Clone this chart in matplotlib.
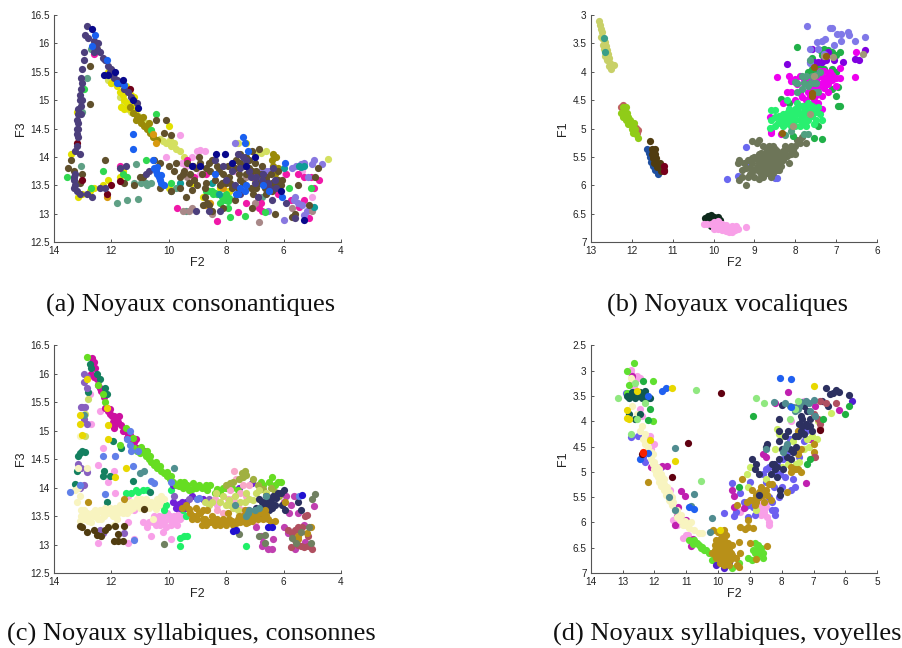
import matplotlib
matplotlib.use("Agg")
import matplotlib.pyplot as plt

W, H = 903, 648
# ---- Panel (a) F2 / F3 : consonant nuclei
A_OLIVE = [(13.5,13.8),(13.4,13.95),(13.3,13.75),(13.1,13.55),(13.0,13.7),(12.75,15.6),(12.75,14.93),(12.2,13.95),(11.0,13.65),(10.5,13.95),(10.3,13.9),(10.0,13.85),(9.8,13.75),(9.5,13.7),(9.3,13.55),(9.1,13.6),(8.9,13.9),(8.7,13.8),(8.5,13.95),(8.3,13.85),(8.1,13.7),(7.9,13.65),(7.7,13.8),(7.5,13.9),(7.3,14.0),(7.1,14.1),(7.0,13.9),(6.8,13.7),(6.6,13.6),(6.4,13.55),(6.2,13.75),(6.1,13.5),(9.6,13.45),(9.4,13.3),(8.8,13.15),(8.5,13.05),(8.1,13.1),(7.7,13.25),(7.1,13.1),(6.3,13.0),(5.6,13.0),(5.7,12.95),(4.9,13.65),(4.8,13.8),(5.1,13.15),(5.5,13.5),(11.55,13.55),(11.2,13.5),(10.9,13.65),(9.9,13.4),(8.65,13.2),(8.6,13.15),(8.75,13.3),(10.1,14.65),(10.45,14.65),(9.9,14.38),(10.15,14.42),(6.85,14.15),(7.5,14.05),(7.2,13.8),(7.3,13.7),(9.15,13.85),(8.0,13.55),(8.2,13.5),(6.5,13.5),(6.6,13.35),(7.6,13.45),(10.3,13.45),(9.2,13.42),(7.5,13.6),
           (9.6,13.65),(9.45,13.75),(9.25,13.7),(9.05,13.8),(8.85,13.7),(8.7,13.55),(8.55,13.75),(8.4,13.6),(8.25,13.75),(8.15,13.55),(7.95,13.85),(7.85,13.55),(7.65,13.95),(7.55,13.7),(7.35,13.85),(7.2,13.95),(7.1,13.75),(6.95,13.75),(6.85,13.55),(6.75,13.85),(6.6,13.65),(6.45,13.7),(6.3,13.5),(6.2,13.6),(6.05,13.6),(9.0,13.5),(8.75,13.45),(7.8,13.45),(7.4,13.55),(7.15,13.45),(6.95,13.45),(7.05,13.35),(6.65,13.45),(6.4,13.4),(9.75,13.9),(9.35,13.9),(8.95,14.0),(8.6,13.9)]
A_PURPLE = [(12.85,16.3),(12.9,16.15),(12.8,16.1),(12.95,15.85),(12.95,15.7),(13.0,15.55),(13.05,15.4),(13.0,15.3),(13.05,15.2),(13.1,15.1),(13.1,15.0),(13.05,14.9),(13.15,14.85),(13.15,14.75),(13.2,14.65),(13.15,14.6),(13.2,14.5),(13.15,14.5),(13.2,14.4),(13.15,14.35),(13.2,14.2),(13.1,14.05),(13.25,14.1),(13.25,13.7),(13.3,13.6),(13.25,13.5),(13.3,13.45),(13.1,13.35),(12.85,13.35),(12.65,13.3),(12.4,13.45),(12.2,13.45),(10.8,13.7),(10.7,13.75),(11.5,13.85),(11.7,13.8),(12.6,16.05),(12.55,15.95),(12.5,15.9),(12.45,16.0),(12.4,15.85),(12.3,15.75),(12.2,15.7),(12.1,15.6),(12.0,15.55),(11.95,15.45),(11.9,15.4),(11.8,15.35),(11.7,15.3),(11.55,15.2),(11.4,15.15),(11.3,15.05),(11.1,14.95),(8.4,13.95),(8.1,13.85),(7.8,13.75),(7.4,14.0),(7.2,13.75),(7.0,13.55),(6.7,13.7),(6.5,13.45),(6.3,13.6),(6.9,13.3),(7.5,13.35),(8.2,13.05),(8.6,13.05),(5.9,13.2),(5.6,12.92),(6.4,13.25),(9.05,13.05),
            (7.6,14.05),(7.5,13.8),(7.3,13.95),(7.15,13.65),(6.95,13.65),(6.75,13.6),(6.55,13.55),(6.35,13.8),(8.0,13.6),(7.7,13.5),(6.25,13.45),(13.3,13.65),(13.2,13.4),(13.05,14.75),(13.0,15.0),(12.6,15.85),(12.05,15.5)]
A_YELLOW = [(13.4,14.05),(13.2,14.8),(13.15,13.3),(13.0,13.35),(12.75,13.4),(12.6,13.45),(12.3,13.5),(12.1,13.6),(11.7,13.65),(11.6,13.75),(12.5,15.9),(12.1,15.5),(12.0,15.3),(11.75,15.3),(11.5,15.25),(11.3,15.1),(11.2,15.05),(11.1,14.85),(10.0,14.55),(10.0,13.45),(9.2,13.55),(8.8,13.3),(8.2,13.45),(7.9,13.4),(7.3,14.25),(7.2,13.7),(7.0,13.6),(11.9,15.35),(11.8,15.25),(11.7,15.15),(11.55,15.0),(11.6,15.1),(11.45,14.95),(11.35,14.85),(11.25,14.9),(11.65,14.88),(11.55,14.85)]
A_LIME = [(11.55,14.95),(11.45,14.9),(11.4,14.85),(11.3,14.8),(11.2,14.78),(11.05,14.72),(10.95,14.65),(10.8,14.6),(10.7,14.5),(10.6,14.48),(12.1,15.35),(12.0,15.3),(11.7,15.05),(10.3,14.32),(10.2,14.28),(10.0,14.25),(9.9,14.2),(9.75,14.15),(9.6,14.1),(9.45,14.0),(7.6,14.25),(6.6,14.1),(6.8,14.08),(4.45,13.97),(10.1,14.25),(9.95,14.3),(9.8,14.25),(7.0,14.05)]
A_OCHRE = [(11.25,14.78),(11.1,14.72),(11.0,14.68),(10.95,14.6),(10.85,14.55),(10.75,14.5),(10.65,14.42),(10.55,14.35),(10.4,14.3),(6.35,14.05),(6.25,14.0),(6.4,13.95),(6.35,13.85),(6.2,13.8),(6.3,13.7),(11.35,14.88),(11.15,14.65),(10.9,14.7),(10.7,14.6)]
A_NAVY = [(12.65,16.25),(12.1,15.45),(12.25,15.45),(11.85,15.5),(11.6,15.35),(11.25,15.0),(11.05,14.87),(8.35,14.05),(8.05,14.05),(7.8,13.9),(7.3,13.85),(7.0,14.0),(8.9,13.85),(5.3,12.9),(6.1,13.4),(9.2,13.85)]
A_BLUE = [(12.55,16.15),(12.65,15.95),(12.15,15.7),(11.55,15.27),(11.8,15.3),(11.25,14.4),(11.25,14.15),(10.5,13.8),(10.45,13.75),(10.4,13.7),(10.35,13.65),(10.3,13.6),(10.25,13.55),(10.15,13.5),(10.55,13.95),(7.4,14.35),(7.35,14.25),(7.25,14.1),(7.65,13.35),(7.5,13.45),(7.3,13.5),(6.7,13.5),(6.5,13.4),(6.05,13.3),(5.95,13.9),(8.4,13.7),(10.4,13.82),(10.28,13.68),(7.6,13.35),(7.35,13.4)]
A_SAGE = [(12.7,15.9),(12.85,15.4),(13.0,14.8),(13.05,13.85),(11.8,13.2),(11.45,13.25),(11.05,13.27),(11.2,13.55),(10.95,13.55),(10.8,13.55),(10.6,13.55),(10.75,13.5),(11.15,13.88),(9.9,13.4),(9.75,13.45),(9.4,13.05),(7.9,13.4),(6.75,13.3)]
A_SPRING = [(13.55,13.65),(12.95,15.2),(12.3,13.75),(12.7,13.45),(11.45,13.65),(11.6,13.7),(10.8,13.95),(10.6,14.48),(10.45,14.75),(9.9,13.55),(8.7,13.4),(8.2,13.2),(8.15,13.3),(8.05,13.25),(7.95,13.22),(8.0,13.35),(7.95,13.1),(8.4,13.37),(8.6,13.4),(8.3,13.35),(7.85,12.95),(7.35,12.97),(6.65,13.03),(5.8,13.45),(5.05,13.45),(8.1,13.3),(7.9,13.28),(8.5,13.4),(8.45,13.35)]
A_MAGENTA = [(11.7,13.85),(9.7,13.1),(9.1,13.65),(8.3,12.87),(7.6,13.03),(7.3,13.2),(7.05,13.65),(6.9,13.3),(6.85,13.1),(6.75,13.05),(5.9,13.7),(5.5,13.7),(5.3,13.65),(5.1,12.93),(5.05,13.65),(4.95,13.45),(4.75,13.6),(5.3,13.25),(6.2,13.35),(9.35,13.95),(8.7,13.7),(12.6,15.82),(6.8,13.2),(5.75,13.25),(5.45,13.12)]
A_PERI = [(6.5,13.75),(5.7,13.8),(5.55,13.85),(5.4,13.87),(5.3,13.9),(5.0,13.88),(4.95,13.95),(4.65,13.88),(5.65,13.25),(5.5,13.2),(5.2,13.05),(5.3,12.98),(6.0,12.9),(6.55,13.05),(5.15,13.65),(7.7,14.25),(6.8,13.75),(6.6,13.75),(5.6,13.3),(5.35,13.15)]
A_PINK = [(9.6,14.38),(9.0,14.1),(8.9,14.12),(8.75,14.1),(8.9,13.7),(9.2,14.0),(7.7,13.75),(6.45,13.5),(5.0,13.3),(5.35,13.75),(5.95,13.7),(10.1,14.0),(9.55,13.9),(9.4,13.85)]
A_MAROON = [(13.0,13.6),(13.2,14.25),(11.7,13.58),(12.0,13.5),(12.15,13.35),(11.35,15.2)]
A_TEAL = [(5.45,13.85),(5.4,13.82),(5.3,13.85),(4.95,13.13),(6.0,13.8),(8.5,13.55),(8.25,13.35),(9.6,13.55)]
A_ORANGE = [(12.15,13.3),(8.75,13.15),(8.55,13.2),(8.1,13.45),(10.55,14.4),(10.45,14.25)]
A_DRAB = [(6.85,12.85),(7.0,13.2),(5.7,13.1),(5.0,13.05),(8.5,13.0),(9.3,13.05),(9.5,13.05),(9.2,13.1),(9.35,13.65),(7.3,13.65)]

A_SERIES = [(A_SAGE,"#5fa085"),(A_LIME,"#d4e060"),(A_YELLOW,"#e2e000"),(A_OCHRE,"#9a8a08"),(A_PINK,"#f6a0e8"),(A_MAGENTA,"#f018a8"),(A_PERI,"#8878e0"),(A_SPRING,"#30d850"),(A_DRAB,"#a88888"),(A_ORANGE,"#d89a10"),(A_TEAL,"#109c98"),(A_OLIVE,"#60502c"),(A_MAROON,"#700018"),(A_PURPLE,"#4c3f7c"),(A_BLUE,"#1a60f0"),(A_NAVY,"#08088c")]

# ---- Panel (b) F2 / F1 : vowel nuclei
B_KHAKI = [(12.8,3.1),(12.78,3.18),(12.75,3.25),(12.72,3.3),(12.75,3.38),(12.7,3.42),(12.65,3.48),(12.7,3.52),(12.62,3.55),(12.6,3.62),(12.68,3.6),(12.58,3.68),(12.65,3.72),(12.55,3.75),(12.6,3.8),(12.52,3.85),(12.42,3.88),(12.5,3.95),(12.56,3.9)]
B_SEA = [(12.67,3.4),(12.65,3.65)]
B_ROSE = [(12.22,4.58),(12.27,4.62),(11.87,5.08),(11.84,5.02),(11.9,4.98)]
B_YGREEN = [(12.2,4.62),(12.15,4.62),(12.25,4.72),(12.18,4.72),(12.12,4.72),(12.2,4.8),(12.1,4.8),(12.15,4.85),(12.05,4.85),(12.08,4.92),(12.02,4.92),(11.95,4.9),(12.0,5.0),(11.92,5.0),(11.97,5.08),(11.9,5.1),(11.85,5.17)]
B_BLUE = [(11.62,5.35),(11.58,5.42),(11.55,5.5),(11.52,5.58),(11.48,5.66),(11.42,5.72),(11.36,5.8),(11.35,5.72)]
B_BROWN = [(11.56,5.22),(11.5,5.36),(11.42,5.36),(11.5,5.44),(11.42,5.45),(11.48,5.52),(11.4,5.52),(11.45,5.6),(11.38,5.6),(11.3,5.6),(11.38,5.68),(11.3,5.68),(11.28,5.75),(11.22,5.72)]
B_MAROON = [(11.2,5.65),(11.22,5.75)]
B_DARK = [(10.2,6.57),(10.13,6.54),(10.07,6.52),(10.0,6.56),(9.9,6.56),(9.85,6.6),(10.1,6.6),(10.05,6.72)]
B_PINK = [(10.23,6.67),(10.15,6.68),(10.05,6.68),(10.0,6.64),(9.95,6.7),(9.88,6.63),(9.8,6.68),(9.7,6.7),(9.9,6.77),(9.8,6.78),(9.7,6.8),(9.62,6.76),(9.55,6.72),(9.47,6.78),(9.55,6.82),(9.62,6.82),(9.2,6.73),(9.4,6.76),(10.0,6.76),(9.45,6.72)]
B_PERI2 = [(9.66,5.88),(9.2,5.32),(9.4,5.84),(9.17,5.6),(8.45,5.87),(8.5,5.87)]
B_GRAY = [(9.39,5.9),(9.37,5.55),(9.4,5.6),(9.3,5.85),(9.3,5.72),(9.2,5.99),(9.15,5.55),(9.1,5.7),(9.1,5.8),(9.05,5.6),(9.0,5.5),(9.0,5.72),(9.0,5.85),(8.9,5.45),(8.9,5.6),(8.9,5.75),(8.88,5.2),(8.8,5.5),(8.8,5.65),(8.8,5.85),(8.7,5.35),(8.7,5.5),(8.7,5.65),(8.7,5.78),(8.6,5.4),(8.6,5.55),(8.6,5.7),(8.6,5.85),(8.5,5.35),(8.5,5.5),(8.5,5.65),(8.4,5.45),(8.4,5.6),(8.4,5.72),(8.3,5.4),(8.3,5.55),(8.2,5.35),(8.2,5.48),(8.15,5.6),(8.1,5.3),(8.1,5.45),(8.0,5.3),(8.0,5.45),(7.95,5.2),(7.85,5.15),(7.75,5.25),(8.9,5.88),(8.95,5.25),(9.05,5.22),
          (9.05,5.52),(8.95,5.53),(8.95,5.68),(8.85,5.55),(8.85,5.42),(8.85,5.8),(8.75,5.42),(8.75,5.58),(8.75,5.72),(8.65,5.45),(8.65,5.62),(8.65,5.75),(8.55,5.45),(8.55,5.6),(8.55,5.78),(8.45,5.4),(8.45,5.55),(8.45,5.72),(8.35,5.48),(8.35,5.65),(8.25,5.45),(8.25,5.3),(8.05,5.38),(7.9,5.25),(9.25,5.6),(9.2,5.7),(9.15,5.85),(8.65,5.3),(8.55,5.3),(8.8,5.3)]
B_SPRING = [(8.6,4.68),(8.5,4.68),(8.62,4.98),(8.6,4.85),(8.5,4.8),(8.5,4.95),(8.42,4.9),(8.35,4.85),(8.3,4.75),(8.3,4.95),(8.2,4.85),(8.15,4.65),(8.1,4.78),(8.1,4.95),(8.0,4.65),(8.0,4.85),(7.95,4.75),(7.9,4.95),(7.85,4.6),(7.85,4.82),(7.8,4.7),(7.7,4.55),(7.7,4.85),(7.65,4.7),(7.6,4.6),(7.6,4.78),(7.5,4.7),(7.5,4.85),(7.4,4.75),(7.35,4.85),(8.2,4.5),(7.95,4.55),(7.75,4.95),(7.55,4.92),
            (8.4,4.78),(8.25,4.82),(8.25,4.92),(8.2,4.72),(8.15,4.9),(8.05,4.72),(8.05,4.88),(7.95,4.65),(7.9,4.72),(7.9,4.85),(7.8,4.6),(7.8,4.82),(7.75,4.68),(7.7,4.72),(7.65,4.58),(7.55,4.65),(7.45,4.62),(7.8,4.9),(8.0,4.95)]
B_MAGENTA = [(8.46,4.09),(8.15,4.08),(8.1,4.16),(8.0,4.12),(7.9,4.08),(7.8,4.12),(7.7,4.12),(7.6,4.1),(7.5,4.15),(7.4,4.08),(7.3,4.1),(7.2,4.08),(7.1,4.06),(7.0,4.1),(6.9,4.1),(6.55,4.09),(6.9,3.93),(8.2,4.36),(8.1,4.35),(8.0,4.5),(7.9,4.38),(7.7,4.35),(7.5,4.4),(7.45,4.55),(7.3,4.28),(7.2,4.35),(7.0,4.25),(7.35,4.65),(7.6,4.28),(7.8,4.2),(7.4,3.98),(7.3,3.98),(8.35,5.1),(8.6,5.05),(8.6,5.08),(8.62,4.8),(8.3,4.55),(6.53,3.65),
             (7.95,4.22),(7.7,4.2),(7.55,4.22),(7.35,4.2),(7.25,4.18),(7.45,4.28),(7.85,4.45),(7.65,4.42),(7.35,4.42),(7.55,4.5),(7.75,4.5),(7.2,4.22),(7.1,4.15),(7.15,4.0)]
B_GREEN = [(7.95,3.57),(7.6,3.75),(7.4,3.62),(7.3,3.6),(7.2,3.62),(7.1,3.65),(6.9,3.65),(7.3,3.95),(7.1,3.95),(7.0,4.0),(7.1,4.3),(6.95,4.26),(6.95,4.6),(6.9,4.6),(7.0,4.42),(7.35,5.18),(7.45,4.95),(7.55,5.17),(8.35,4.47),(8.15,4.55),(8.05,5.13),(7.4,3.9),(7.6,3.95),(7.5,4.0),(7.7,4.0),(7.35,3.7),(7.25,3.7),(7.0,3.7)]
B_SEAGREEN = [(8.0,4.18),(7.95,4.2),(7.85,4.08),(7.75,4.08),(7.6,4.07),(7.5,4.05),(7.8,4.2),(7.65,4.2),(7.55,4.2),(7.5,4.2),(7.4,4.0),(7.95,4.35),(7.85,4.3),(7.7,4.25),(7.55,4.35),(7.45,4.35),(7.65,3.8),(7.7,5.1),(7.8,5.1),(8.25,5.12),(8.1,5.05)]
B_VIOLET = [(8.2,3.86),(7.65,3.82),(7.55,3.82),(7.45,3.82),(7.35,3.82),(7.25,3.8),(7.2,3.65),(7.05,3.8),(6.83,3.82),(6.55,3.77),(6.45,3.8),(6.3,3.62),(7.3,3.75),(7.6,3.6)]
B_PERI = [(7.72,3.2),(7.15,3.23),(7.1,3.22),(6.98,3.33),(6.88,3.33),(6.72,3.3),(6.7,3.35),(6.88,3.45),(6.3,3.38),(6.55,3.45),(7.05,3.52),(7.28,3.42),(7.36,3.46),(7.48,3.48),(7.64,3.6),(7.3,3.68),(7.65,3.85),(7.45,3.6)]
B_TAN = [(7.3,3.72),(7.07,3.74),(6.35,3.68),(7.65,4.75),(8.05,4.95),(7.55,4.07)]
B_UMBER = [(7.25,3.72),(7.55,3.91),(7.6,4.38),(7.6,4.42),(8.32,5.08)]
B_SERIES = [(B_KHAKI,"#c8d068"),(B_SEA,"#3a9e88"),(B_ROSE,"#c06060"),(B_YGREEN,"#90cc18"),(B_BLUE,"#1f4fa0"),(B_BROWN,"#503c10"),(B_MAROON,"#78001c"),(B_DARK,"#0e2a1c"),(B_PINK,"#f8a0e8"),(B_PERI2,"#6a68f0"),(B_GRAY,"#6d7558"),(B_GREEN,"#20b048"),(B_VIOLET,"#8000e0"),(B_PERI,"#8078e8"),(B_MAGENTA,"#ee00ee"),(B_SPRING,"#28f070"),(B_SEAGREEN,"#50a080"),(B_TAN,"#a09878"),(B_UMBER,"#906010")]

# ---- Panel (c) F2 / F3 : syllabic nuclei, consonants
C_PINK = [(12.75,15.65),(12.7,15.12),(12.4,15.35),(12.3,14.7),(12.45,14.4),(11.85,14.55),(11.9,14.3),(12.1,14.1),(11.4,13.4),(11.2,13.1),(11.4,13.02),(12.45,13.03),(10.9,13.4),(10.75,13.3),(10.6,13.15),(10.7,13.4),(10.5,13.5),(10.4,13.4),(10.3,13.35),(10.2,13.5),(10.1,13.3),(10.0,13.45),(9.9,13.35),(9.8,13.5),(9.7,13.35),(9.6,13.45),(9.5,13.5),(9.9,13.1),(11.85,13.9),(11.4,13.85),(11.2,13.6),(10.2,13.22),(8.3,13.7),(10.45,13.35),(10.25,13.45),(10.15,13.4),(10.05,13.55),(9.95,13.5),(9.85,13.42),(9.75,13.45),(9.65,13.55),(10.55,13.4),(10.35,13.5)]
C_CREAM = [(13.25,13.95),(13.15,14.0),(13.1,13.85),(13.2,13.75),(13.05,13.6),(13.05,13.5),(12.95,13.45),(13.1,13.42),(12.85,13.55),(12.7,13.4),(12.6,13.5),(12.55,13.6),(12.45,13.45),(12.4,13.6),(12.3,13.55),(12.2,13.65),(12.1,13.55),(12.05,13.65),(11.95,13.5),(11.85,13.65),(11.75,13.55),(11.7,13.7),(11.6,13.55),(11.5,13.7),(11.4,13.65),(11.3,13.75),(11.2,13.7),(11.1,13.8),(11.0,13.65),(10.9,13.7),(10.8,13.8),(10.7,13.65),(10.6,13.75),(10.5,13.7),(10.4,13.8),(10.3,13.75),(11.9,13.35),(11.8,13.45),(10.55,13.45),(13.15,14.35),(13.1,14.9),(12.85,14.35),
           (13.0,13.5),(12.95,13.6),(12.8,13.42),(12.65,13.55),(12.5,13.55),(12.35,13.45),(12.25,13.5),(12.15,13.6),(12.0,13.6),(11.9,13.55),(11.8,13.6),(11.65,13.65),(11.55,13.65),(11.45,13.55),(11.35,13.6),(11.25,13.65),(11.15,13.75),(11.05,13.7),(10.95,13.8),(10.85,13.65),(10.75,13.75),(10.65,13.7),(10.45,13.62),(10.35,13.7),(12.9,13.48),(12.75,13.52),(10.25,13.85),(10.15,13.8)]
C_MAGENTA = [(12.65,16.28),(12.6,16.2),(12.55,16.1),(12.7,16.0),(12.5,15.9),(12.45,15.8),(12.35,15.7),(12.25,15.6),(12.2,15.4),(12.1,15.35),(12.05,15.3),(11.98,15.25),(11.95,15.15),(11.9,15.05),(11.8,15.2),(11.72,15.25),(11.65,15.1),(11.5,15.0),(11.4,14.95),(11.3,14.85),(11.2,14.8),(11.1,14.7),(11.0,14.68),(10.85,14.65),(10.7,14.55),(12.15,15.4),(12.05,15.38),(11.9,15.25),(11.85,15.12),(11.75,15.15),(11.6,15.0),(11.45,14.88),(11.35,14.92),(11.15,14.85),(12.4,15.75),(12.6,15.95)]
C_DGREEN = [(12.75,16.18),(12.7,16.1),(12.5,16.0),(12.4,15.9),(12.2,15.75),(12.15,15.65),(12.8,15.68),(13.0,14.65),(13.15,14.55),(13.1,14.6),(12.9,14.62),(13.2,14.3),(13.25,14.07),(12.25,14.3),(12.3,14.2),(12.05,14.2),(11.25,14.12),(11.65,14.7),(11.95,14.82),(12.15,13.75),(10.65,13.93)]
C_GREEN = [(11.25,14.88),(11.2,14.7),(11.1,14.65),(11.0,14.6),(10.9,14.62),(10.8,14.55),(10.7,14.5),(10.6,14.45),(10.5,14.4),(10.4,14.35),(10.25,14.3),(10.15,14.25),(10.05,14.2),(9.95,14.15),(9.85,14.1),(9.75,14.05),(9.6,14.1),(9.5,14.0),(9.35,14.05),(9.2,13.98),(9.05,14.0),(8.95,14.05),(8.85,14.0),(8.7,14.05),(8.55,14.05),(8.4,13.9),(8.3,13.97),(8.2,13.9),(8.1,14.0),(8.0,14.0),(7.8,14.0),(7.6,13.95),(6.8,14.1),(6.7,14.05),(6.5,14.1),(6.4,14.18),(6.3,14.05),(6.2,14.1),(6.1,14.1),(11.5,15.05),(11.7,14.75),(12.85,16.3),(12.45,15.8),(12.3,15.65),(12.2,15.5),(10.95,14.72),(10.75,14.65),(10.65,14.55),(10.45,14.45),(10.3,14.38),(10.05,14.28),(9.9,14.2),(9.65,14.02),(9.45,14.1),(9.3,13.95),(9.15,14.08),(8.65,13.95)]
C_SPRING = [(11.5,13.9),(11.3,13.9),(11.15,13.95),(11.05,13.92),(10.9,13.95),(10.75,13.95),(10.2,13.68),(10.15,13.6),(10.1,13.7),(9.9,13.95),(9.5,13.6),(9.4,13.5),(9.6,13.12),(9.45,13.15),(9.35,13.15),(9.6,12.97),(7.3,12.97)]
C_GOLD = [(9.55,13.65),(9.4,13.7),(9.25,13.55),(9.1,13.5),(9.05,13.65),(9.0,13.45),(8.9,13.55),(8.85,13.35),(8.75,13.45),(8.65,13.6),(8.6,13.4),(8.5,13.5),(8.4,13.35),(8.3,13.45),(8.2,13.35),(8.1,13.45),(8.0,13.35),(7.95,13.55),(7.85,13.4),(7.75,13.35),(7.6,13.45),(7.5,13.4),(7.4,13.5),(7.3,13.55),(7.25,13.4),(7.15,13.45),(7.05,13.55),(6.9,13.45),(6.75,13.55),(6.65,13.6),(6.55,13.45),(6.45,13.4),(6.3,13.42),(11.55,13.8),(12.8,13.75),(8.8,13.6),(5.95,13.75),(5.5,13.15),(5.2,13.2),(5.05,13.3),(5.5,13.1),
          (9.2,13.45),(8.95,13.55),(8.8,13.45),(8.7,13.35),(8.55,13.4),(8.45,13.45),(8.35,13.38),(8.25,13.42),(8.15,13.38),(8.05,13.42),(7.9,13.45),(7.8,13.42),(7.65,13.38),(7.55,13.5),(7.45,13.42),(7.35,13.42),(7.2,13.52),(7.1,13.42),(7.0,13.5),(6.85,13.55),(6.7,13.45),(6.6,13.52),(9.3,13.62),(7.3,13.38),(7.35,13.6)]
C_NAVY = [(6.85,13.8),(6.75,13.75),(6.7,13.65),(6.6,13.85),(6.55,13.7),(6.5,13.6),(6.45,13.75),(6.35,13.85),(6.3,13.7),(6.2,13.9),(6.1,13.9),(6.05,13.7),(6.0,13.95),(5.95,13.6),(6.9,13.5),(7.0,13.6),(5.5,13.75),(5.4,13.6),(6.65,13.75),(6.5,13.8),(6.4,13.65),(6.25,13.82),(6.75,13.62),(6.95,13.65),(6.9,13.6)]
C_VIOLET = [(9.85,14.05),(9.85,13.75),(9.7,13.7),(9.6,13.65),(9.5,13.7),(9.4,13.75),(9.35,13.65),(9.2,13.85),(8.8,13.8),(7.1,14.08),(7.55,14.0),(9.65,13.72),(9.55,13.75),(9.45,13.65),(9.75,13.65)]
C_PURPLE = [(12.95,16.0),(12.95,15.85),(12.85,15.75),(12.85,15.95),(13.05,15.42),(13.0,15.42),(12.9,15.42),(12.95,15.2),(12.85,15.12),(13.15,14.42),(13.05,14.35),(13.1,14.0),(12.95,14.05),(12.85,14.27),(12.4,13.25),(12.3,13.2),(11.55,13.2),(9.8,13.85),(9.3,13.8),(8.6,13.8)]
C_LEMON = [(12.9,14.9),(12.8,15.55),(12.9,15.3),(8.6,13.7),(8.5,13.75),(8.35,13.9),(8.2,13.75),(8.1,13.85),(8.0,13.7),(7.85,13.7),(7.7,13.85),(7.5,13.75),(7.35,13.75),(7.2,13.8),(6.95,13.9),(6.85,13.95),(6.6,13.9),(7.75,13.65),(7.6,13.6),(8.75,13.75),(7.9,13.78),(7.3,13.9),(7.05,13.78)]
C_OLIVE = [(8.0,14.05),(7.75,14.1),(7.55,14.15),(7.45,14.25),(7.35,14.3),(7.3,14.22),(7.05,14.15),(6.9,14.05),(6.7,13.98),(6.45,14.0),(6.3,13.92),(6.15,13.85),(7.4,14.18),(7.85,14.08)]
C_LPINK = [(8.4,13.8),(8.1,13.55),(7.95,13.8),(7.85,13.95),(7.8,13.8),(7.75,13.65),(7.72,14.3),(7.6,13.7),(7.65,14.15),(7.5,13.9),(7.45,13.6),(7.4,14.05),(7.3,13.85),(7.2,14.05),(6.9,13.55),(7.0,13.4),(7.7,13.75),(7.55,13.6),(8.3,13.6)]
C_BLUE = [(13.45,13.92),(13.1,14.05),(12.2,13.88),(12.3,14.55),(11.85,14.55),(11.35,15.0),(11.45,14.85),(11.3,14.65),(11.25,14.38),(11.35,14.75),(11.05,14.65),(10.6,14.12),(10.5,14.08),(9.9,14.1),(9.0,13.8),(8.95,13.82),(11.2,13.08),(5.45,13.85)]
C_ROSE = [(5.75,12.95),(5.5,13.0),(5.4,12.98),(5.3,12.95),(5.15,12.98),(5.7,13.2),(5.6,13.25),(5.5,13.3),(5.35,13.3),(5.25,13.5),(5.2,13.52),(5.85,13.25),(5.0,12.93),(5.15,13.15),(5.6,13.08)]
C_ORCHID = [(6.8,13.15),(6.7,13.05),(6.75,12.97),(6.55,12.93),(6.4,12.92),(6.35,13.1),(6.0,13.75),(5.9,13.85),(5.75,13.7),(5.8,13.55),(5.65,13.85),(5.5,13.55),(6.0,13.3),(5.85,13.2),(5.3,13.35),(4.95,13.67),(5.25,13.05),(5.6,12.93),(7.25,13.6),(6.95,13.3)]
C_BROWN = [(13.1,13.32),(13.0,13.3),(12.85,13.22),(12.6,13.25),(12.5,13.17),(12.35,13.15),(12.2,13.25),(12.1,13.3),(11.9,13.07),(11.75,13.07),(11.75,13.19),(11.6,13.07),(11.55,13.32),(11.85,13.32),(10.85,13.62)]
C_GRAY = [(5.05,13.03),(5.1,13.3),(5.0,13.8),(4.9,13.88),(5.7,13.12),(5.55,13.02),(5.4,13.22),(6.85,13.15),(6.65,13.17),(6.65,13.03),(7.55,13.18),(10.15,13.01)]
C_TEAL = [(7.3,13.5),(7.25,13.55),(7.2,13.6),(7.0,13.6),(6.85,13.65),(7.7,13.7),(12.95,15.27),(10.85,14.3),(11.0,14.25),(9.8,14.35),(6.6,13.85)]
C_MISC = [(13.1,15.27),(13.1,15.12),(12.85,15.9),(12.1,14.85),(12.1,15.1),(12.15,15.4),(11.5,14.35),(11.85,14.18),(13.0,14.93)]
C_DARKBLUE = [(5.35,13.87),(7.75,13.23),(7.65,13.25),(6.55,13.3),(6.4,13.3)]
C_SERIES = [(C_PINK,"#f8a0e8"),(C_SPRING,"#20f068"),(C_MAGENTA,"#cc10a0"),(C_DGREEN,"#148060"),(C_VIOLET,"#7020d8"),(C_PURPLE,"#8860c0"),(C_GREEN,"#66dd22"),(C_CREAM,"#f8f4c0"),(C_LPINK,"#f8a8c8"),(C_OLIVE,"#a0b040"),(C_LEMON,"#ccdd66"),(C_ORCHID,"#c040b0"),(C_ROSE,"#b05060"),(C_NAVY,"#2c3060"),(C_GOLD,"#b89018"),(C_TEAL,"#509090"),(C_BLUE,"#6080e8"),(C_BROWN,"#503c10"),(C_GRAY,"#708060"),(C_DARKBLUE,"#2010d0"),(C_MISC,"#e8d800")]

# ---- Panel (d) F2 / F1 : syllabic nuclei, vowels
D_PINK = [(12.75,2.98),(12.75,3.05),(12.55,3.1),(12.45,3.15),(12.6,3.2),(12.45,3.75),(12.4,3.9),(12.15,4.3),(12.0,4.45),(12.1,4.55),(11.5,5.35),(11.45,5.6),(11.4,5.95),(11.3,6.05),(11.0,6.25),(11.1,6.3),(10.95,6.25),(11.25,5.98),(8.6,5.55),(8.55,5.65),(8.65,5.75),(8.5,5.7),(8.65,5.85),(8.55,5.8),(8.75,5.8),(8.45,5.9),(9.3,5.8),(8.4,6.0),(8.4,6.05),(7.7,4.0),(7.3,3.6),(8.6,5.72),(8.7,5.68),(8.48,5.62),(12.7,3.2),(12.65,3.3)]
D_PERI = [(12.9,3.45),(12.65,3.5),(12.5,4.3),(12.75,4.32),(12.35,4.7),(12.3,4.8),(12.15,4.65),(11.8,4.9),(9.95,6.35),(9.55,5.22),(9.3,5.42),(9.2,5.6),(9.15,5.7),(9.05,5.65),(8.9,5.7),(8.8,5.55),(8.6,5.4),(8.4,5.5),(8.3,5.6),(8.2,5.75),(8.1,5.5),(8.0,5.3),(8.05,5.05),(8.2,5.0),(8.4,4.9),(8.5,4.95),(8.15,4.85),(7.95,4.75),(7.7,5.35),(7.6,5.3),(9.8,5.82),(9.5,5.88),(7.8,4.6),(7.55,4.55),(7.3,4.4),(7.5,4.2),(7.25,4.2),(8.6,5.05),(8.85,5.85),(8.2,5.85),(9.05,5.9),(8.3,5.75),(8.25,5.3),(8.5,5.2),(7.9,5.1),(7.75,4.35),(7.45,4.7),(7.65,5.15),(9.0,5.2),(9.45,5.8)]
D_MAGENTA = [(12.7,3.1),(9.55,5.35),(9.5,5.48),(9.5,5.7),(9.2,5.72),(11.15,5.38),(11.05,5.47),(11.35,6.05),(11.0,5.95),(11.3,5.88),(10.8,6.32),(10.85,6.47),(11.75,4.88),(11.6,4.88),(7.25,5.22),(8.6,4.65),(8.5,4.7),(7.8,3.42),(7.4,3.65),(7.5,3.7),(8.2,3.65),(7.1,4.35),(6.95,3.7),(6.2,3.78),(11.25,5.7),(11.9,5.05),(12.1,4.9)]
D_CREAM = [(12.7,3.7),(12.55,3.85),(12.45,4.2),(12.35,4.35),(12.3,4.45),(12.25,4.6),(12.15,4.65),(12.1,4.75),(12.05,4.85),(12.0,4.95),(11.95,5.05),(11.9,5.1),(11.85,5.2),(11.8,5.28),(11.75,5.2),(11.7,5.35),(11.65,5.45),(11.6,5.3),(11.55,5.55),(11.5,5.45),(11.45,5.65),(11.4,5.6),(11.35,5.75),(11.3,5.9),(11.2,5.95),(11.1,6.05),(11.0,6.05),(10.85,6.0),(10.9,6.12),(10.6,6.2),(10.5,6.2),(11.7,5.15),(11.85,4.95),(12.05,4.65),(12.4,4.1),(12.75,3.15),
           (12.2,4.5),(12.12,4.6),(12.0,4.8),(11.92,4.9),(11.8,5.05),(11.75,5.1),(11.7,5.25),(11.6,5.45),(11.55,5.4),(11.5,5.58),(11.45,5.5),(11.3,5.75),(11.15,5.85),(11.05,5.98),(10.75,6.15),(11.85,5.1),(11.95,5.0),(12.3,4.25)]
D_GREEN = [(10.9,6.35),(10.8,6.42),(10.65,6.4),(10.55,6.5),(10.45,6.55),(10.3,6.6),(10.2,6.75),(9.55,6.9),(9.35,6.8),(9.05,6.7),(8.95,6.75),(8.85,6.4),(8.8,6.55),(8.75,6.45),(8.7,6.6),(8.6,6.7),(8.65,6.5),(8.9,6.55),(12.85,3.0),(12.65,2.85),(12.8,3.28),(12.85,3.45),(12.05,3.2),(12.05,4.0),(10.75,6.35),(10.6,6.45),(10.5,6.48),(10.38,6.55),(8.85,6.6),(8.78,6.65),(8.6,6.6)]
D_GOLD = [(10.15,6.15),(10.0,6.18),(9.8,6.15),(9.75,6.25),(9.9,6.3),(10.05,6.35),(9.85,6.45),(9.7,6.4),(10.2,6.6),(10.1,6.55),(9.95,6.55),(9.8,6.6),(9.65,6.55),(9.55,6.45),(9.6,6.6),(10.05,6.7),(9.9,6.7),(9.75,6.7),(9.6,6.72),(9.95,6.8),(9.8,6.85),(9.7,6.8),(9.45,6.7),(9.35,6.38),(9.3,6.6),(9.35,6.88),(9.4,6.85),(9.3,6.1),(9.15,6.13),(9.05,6.1),(8.9,6.12),(9.0,6.4),(8.8,6.72),(8.45,6.47),(9.4,5.65),(9.25,5.15),(9.05,5.95),(9.1,5.6),(9.0,5.55),(8.95,5.35),(8.85,5.65),(8.8,5.45),(8.7,5.5),(8.65,5.3),(8.55,5.6),(8.45,5.45),(8.4,5.25),(8.35,5.55),(8.3,5.25),(7.7,5.0),(7.6,4.95),(7.5,4.95),(7.7,4.9),(7.4,5.0),(7.5,4.65),(7.4,4.55),(7.0,4.6),(7.0,4.45),(7.85,5.4),(7.5,4.2),(12.2,5.2),
          (10.0,6.45),(9.9,6.5),(9.75,6.5),(9.65,6.45),(10.1,6.45),(10.1,6.65),(9.95,6.62),(9.85,6.62),(9.7,6.62),(9.55,6.65),(9.85,6.78),(9.65,6.85),(9.9,6.4),(9.8,6.35),(9.85,6.22),(8.9,5.55),(8.8,5.6),(8.7,5.4),(8.6,5.45),(8.5,5.35)]
D_NAVY = [(8.8,4.85),(8.85,4.95),(8.95,4.75),(8.7,5.45),(8.7,5.05),(8.5,4.5),(8.45,4.45),(8.35,5.05),(8.3,4.85),(8.2,4.95),(8.1,4.75),(8.15,5.1),(8.05,5.35),(8.05,5.45),(8.1,4.4),(8.1,4.2),(8.0,4.55),(7.9,4.3),(7.85,4.7),(7.8,4.2),(7.7,4.75),(7.6,4.3),(7.55,4.5),(7.5,4.3),(7.45,4.05),(7.4,3.9),(7.3,4.25),(7.25,4.05),(7.2,3.8),(7.1,3.95),(7.05,4.2),(7.35,3.95),(7.3,3.7),(8.1,3.95),(8.0,3.68),(6.75,3.6),(6.6,3.35),(6.5,3.47),(6.55,3.7),(6.3,3.38),(6.2,3.42),(5.9,3.48),(6.4,3.45),(8.25,4.85),(8.15,4.9),(7.95,4.95),(7.75,4.55),(7.65,4.6),(7.4,4.2),(7.2,4.1),(7.1,4.1),(7.35,4.1)]
D_LEMON = [(8.15,4.15),(8.2,4.55),(8.1,4.25),(8.0,4.3),(8.0,4.9),(7.8,4.85),(7.65,4.4),(7.55,4.85),(7.45,4.8),(7.3,4.55),(7.2,4.35),(7.15,4.5),(7.05,4.3),(6.9,4.35),(6.85,4.0),(6.45,3.83),(9.0,4.9),(9.1,5.05),(9.05,5.3),(8.8,5.75),(8.5,5.15)]
D_DTEAL = [(12.85,3.5),(12.8,3.55),(12.7,3.5),(12.6,3.55),(12.5,3.5),(12.4,3.55),(12.3,3.5),(12.2,3.55),(12.7,3.42),(12.45,3.42),(12.3,3.4),(12.15,3.55),(12.8,3.85),(12.6,3.95),(12.45,3.85)]
D_TEAL = [(7.75,3.7),(7.6,3.8),(7.5,3.75),(7.4,3.62),(7.25,3.6),(7.15,3.65),(7.0,3.58),(7.9,3.65),(8.25,3.62),(8.5,4.55),(7.95,4.6),(7.9,4.52),(7.85,4.45),(7.1,3.8),(6.95,3.9),(11.35,4.52),(10.75,5.43),(10.2,5.92),(10.25,6.18),(11.55,5.5),(10.85,5.68),(11.35,5.75),(7.45,3.7),(7.65,3.72)]
D_ROSE = [(6.8,3.6),(6.6,3.65),(6.3,3.65),(6.85,3.95),(6.8,4.05),(7.0,4.7),(6.95,4.7),(6.8,4.15),(7.0,3.85)]
D_LGREEN = [(12.6,3.25),(13.15,3.55),(12.75,4.25),(12.55,3.95),(12.3,3.65),(10.7,3.38),(10.55,5.18),(8.55,3.65),(8.8,3.55),(7.75,3.95),(7.6,3.75),(7.5,3.6)]
D_DGREEN = [(12.35,3.2),(12.15,3.75),(12.2,3.98),(8.9,3.89),(6.0,3.85),(5.9,3.7),(6.7,3.95),(7.2,4.85),(7.1,4.75),(9.35,5.3)]
D_BLUE = [(8.05,3.15),(7.7,3.17),(11.75,3.4),(11.65,3.35),(12.2,3.5),(12.2,4.62),(12.45,4.75),(7.7,3.72),(10.9,5.7),(10.75,5.73)]
D_MAROON = [(12.4,4.65),(10.93,4.44),(11.45,5.1),(9.9,3.44),(6.8,4.17)]
D_YELLOW = [(11.45,3.35),(12.55,3.4),(12.85,3.77),(12.85,3.93),(12.15,4.37),(7.0,3.3),(11.35,4.78),(9.95,6.15),(12.8,3.95)]
D_DARKBLUE = [(5.78,3.61),(9.8,6.9),(9.65,6.78),(10.05,6.85)]
D_RED = [(12.35,4.6),(12.37,4.62)]
D_SERIES = [(D_PINK,"#f8a0e8"),(D_PERI,"#6c60f0"),(D_MAGENTA,"#c020b0"),(D_GREEN,"#60e030"),(D_LEMON,"#ccee66"),(D_CREAM,"#f8f4c0"),(D_DARKBLUE,"#5020d0"),(D_GOLD,"#b89018"),(D_NAVY,"#2c3060"),(D_ROSE,"#b05060"),(D_TEAL,"#508c90"),(D_DTEAL,"#105850"),(D_LGREEN,"#90e880"),(D_DGREEN,"#20b040"),(D_BLUE,"#2060f0"),(D_MAROON,"#600010"),(D_YELLOW,"#e8d800"),(D_RED,"#f82000")]

PANELS = [
    (A_SERIES, (53.7,341.0,15.0,242.3), (14,4), (12.5,16.5), [14,12,10,8,6,4], [12.5,13,13.5,14,14.5,15,15.5,16,16.5], "F3", "(a) Noyaux consonantiques", 191, 305, 21),
    (B_SERIES, (590.7,877.3,15.0,242.3), (13,6), (7,3), [13,12,11,10,9,8,7,6], [3,3.5,4,4.5,5,5.5,6,6.5,7], "F1", "(b) Noyaux vocaliques", 727.5, 305, 563),
    (C_SERIES, (53.7,341.0,345.3,573.0), (14,4), (12.5,16.5), [14,12,10,8,6,4], [12.5,13,13.5,14,14.5,15,15.5,16,16.5], "F3", "(c) Noyaux syllabiques, consonnes", 191, 634, 21),
    (D_SERIES, (590.7,877.3,345.3,573.0), (14,5), (7,2.5), [14,13,12,11,10,9,8,7,6,5], [2.5,3,3.5,4,4.5,5,5.5,6,6.5,7], "F1", "(d) Noyaux syllabiques, voyelles", 727.5, 634, 563),
]

plt.rcParams['font.family'] = ['Liberation Sans', 'DejaVu Sans']
fig = plt.figure(figsize=(W/100, H/100), dpi=100, facecolor='white')
for series, (l, r, t, b), xl, yl, xt, yt, ylabel, cap, cx, cy, ylx in PANELS:
    ax = fig.add_axes([l/W, 1-b/H, (r-l)/W, (b-t)/H])
    for pts, col in series:
        xs = [p[0] for p in pts]
        ys = [p[1] for p in pts]
        ax.scatter(xs, ys, s=27, c=col, linewidths=0, clip_on=False, zorder=3)
    ax.set_xlim(*xl); ax.set_ylim(*yl)
    ax.set_xticks(xt); ax.set_xticklabels([str(v) for v in xt])
    ax.set_yticks(yt); ax.set_yticklabels([f"{v:g}" for v in yt])
    for s in ('top','right'):
        ax.spines[s].set_visible(False)
    for s in ('left','bottom'):
        ax.spines[s].set_color('#555555'); ax.spines[s].set_linewidth(0.8)
    ax.tick_params(direction='in', length=2.5, width=0.7, color='#555555', labelsize=7.2, labelcolor='#222222', pad=3)
    fig.text((l+r)/2/W, 1-(b+21)/H, "F2", ha='center', va='center', fontsize=9, color='#222222')
    fig.text(ylx/W, 1-(t+b)/2/H, ylabel, rotation=90, ha='center', va='center', fontsize=9, color='#222222')
    fig.text(cx/W, 1-cy/H, cap, ha='center', va='center', fontsize=19, family=['Liberation Serif'], color='#111111')
fig.savefig('out.png', dpi=100, facecolor='white')
